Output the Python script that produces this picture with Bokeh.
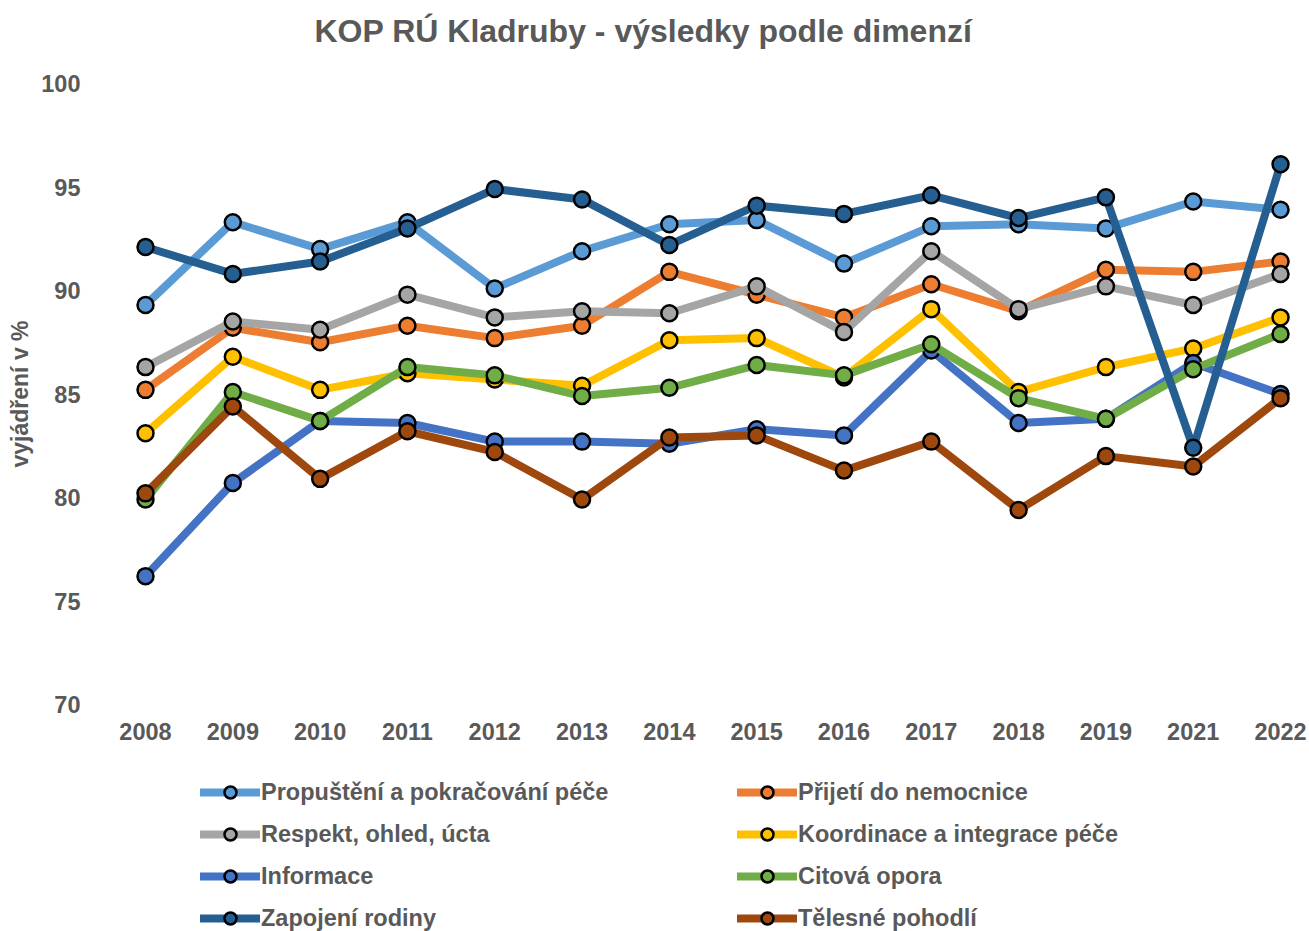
from bokeh.plotting import figure
from bokeh.models import Range1d, FixedTicker, Legend, LegendItem, Title
from bokeh.layouts import column
from bokeh.embed import file_html
from bokeh.resources import INLINE

years = ["2008", "2009", "2010", "2011", "2012", "2013", "2014",
         "2015", "2016", "2017", "2018", "2019", "2021", "2022"]

propusteni = [89.3, 93.3, 92.0, 93.3, 90.1, 91.9, 93.2, 93.4, 91.3, 93.1, 93.2, 93.0, 94.3, 93.9]
prijeti    = [85.2, 88.2, 87.5, 88.3, 87.7, 88.3, 90.9, 89.8, 88.7, 90.3, 89.0, 91.0, 90.9, 91.4]
respekt    = [86.3, 88.5, 88.1, 89.8, 88.7, 89.0, 88.9, 90.2, 88.0, 91.9, 89.1, 90.2, 89.3, 90.8]
koordinace = [83.1, 86.8, 85.2, 86.0, 85.7, 85.4, 87.6, 87.7, 85.8, 89.1, 85.1, 86.3, 87.2, 88.7]
informace  = [76.2, 80.7, 83.7, 83.6, 82.7, 82.7, 82.6, 83.3, 83.0, 87.1, 83.6, 83.8, 86.5, 85.0]
citova     = [79.9, 85.1, 83.7, 86.3, 85.9, 84.9, 85.3, 86.4, 85.9, 87.4, 84.8, 83.8, 86.2, 87.9]
zapojeni   = [92.1, 90.8, 91.4, 93.0, 94.9, 94.4, 92.2, 94.1, 93.7, 94.6, 93.5, 94.5, 82.4, 96.1]
telesne    = [80.2, 84.4, 80.9, 83.2, 82.2, 79.9, 82.9, 83.0, 81.3, 82.7, 79.4, 82.0, 81.5, 84.8]

series_names = ["Propuštění a pokračování péče", "Přijetí do nemocnice",
                "Respekt, ohled, úcta", "Koordinace a integrace péče",
                "Informace", "Citová opora", "Zapojení rodiny", "Tělesné pohodlí"]
series_values = [propusteni, prijeti, respekt, koordinace, informace, citova, zapojeni, telesne]
series_colors = ["#5B9BD5", "#ED7D31", "#A5A5A5", "#FFC000",
                 "#4472C4", "#70AD47", "#255E91", "#9E480E"]

TEXT = "#595959"
FONT = "Liberation Sans"
LW = 8
MS = 16

x = list(range(len(years)))

p = figure(width=1309, height=771, output_backend="svg", toolbar_location=None,
           x_range=Range1d(-0.504, 13.24), y_range=Range1d(70, 100),
           min_border_left=101, min_border_right=8, min_border_top=83, min_border_bottom=67)
p.title = None
p.outline_line_color = None
p.grid.grid_line_color = None

# spacer between the frame and the title (first "above" item sits nearest the frame)
p.add_layout(Title(text=" ", text_font_size="1px", standoff=32), "above")
p.add_layout(Title(text="KOP RÚ Kladruby - výsledky podle dimenzí",
                   text_font=FONT, text_font_size="32px", text_font_style="bold",
                   text_color=TEXT, align="left", offset=213, standoff=0), "above")

p.xaxis.ticker = FixedTicker(ticks=x)
p.xaxis.major_label_overrides = {i: y for i, y in enumerate(years)}
p.yaxis.ticker = FixedTicker(ticks=[70, 75, 80, 85, 90, 95, 100])
for ax in (p.xaxis, p.yaxis):
    ax.axis_line_color = None
    ax.major_tick_line_color = None
    ax.minor_tick_line_color = None
    ax.major_tick_out = 0
    ax.major_tick_in = 0
    ax.major_label_text_font = FONT
    ax.major_label_text_font_style = "bold"
    ax.major_label_text_font_size = "23.5px"
    ax.major_label_text_color = TEXT
p.xaxis.major_label_standoff = 18
p.yaxis.major_label_standoff = 21
p.yaxis.axis_label = "vyjádření v %"
p.yaxis.axis_label_text_font = FONT
p.yaxis.axis_label_text_font_size = "23px"
p.yaxis.axis_label_text_font_style = "bold"
p.yaxis.axis_label_text_color = TEXT
p.yaxis.axis_label_standoff = 5

for vals, col in zip(series_values, series_colors):
    p.line(x, vals, line_color=col, line_width=LW, line_join="round", line_cap="round")
    p.scatter(x, vals, size=MS, fill_color=col, line_color="black", line_width=2.5)

# legend strip below the chart; the same series are drawn there but lie outside its view
lg = figure(width=1309, height=160, output_backend="svg", toolbar_location=None,
            x_range=Range1d(0, 1), y_range=Range1d(0, 1),
            min_border=0, x_axis_location=None, y_axis_location=None)
lg.outline_line_color = None
lg.grid.grid_line_color = None

items = []
for name, vals, col in zip(series_names, series_values, series_colors):
    lr = lg.line(x, vals, line_color=col, line_width=LW, line_cap="round")
    sr = lg.scatter(x, vals, size=MS, fill_color=col, line_color="black", line_width=2.5)
    items.append(LegendItem(label=name, renderers=[lr, sr]))

# row-major order in two columns
order = [0, 2, 4, 6, 1, 3, 5, 7]
legend = Legend(items=[items[i] for i in order], ncols=2,
                glyph_width=60, glyph_height=30, label_height=30, label_width=464,
                label_standoff=1, spacing=12, padding=0, margin=0,
                location=(99, -2),
                label_text_font=FONT, label_text_font_size="23.5px",
                label_text_font_style="bold", label_text_color=TEXT,
                border_line_color=None, background_fill_alpha=0)
lg.add_layout(legend, "center")

layout = column(p, lg, spacing=0)
open("out.html", "w").write(file_html(layout, INLINE))
